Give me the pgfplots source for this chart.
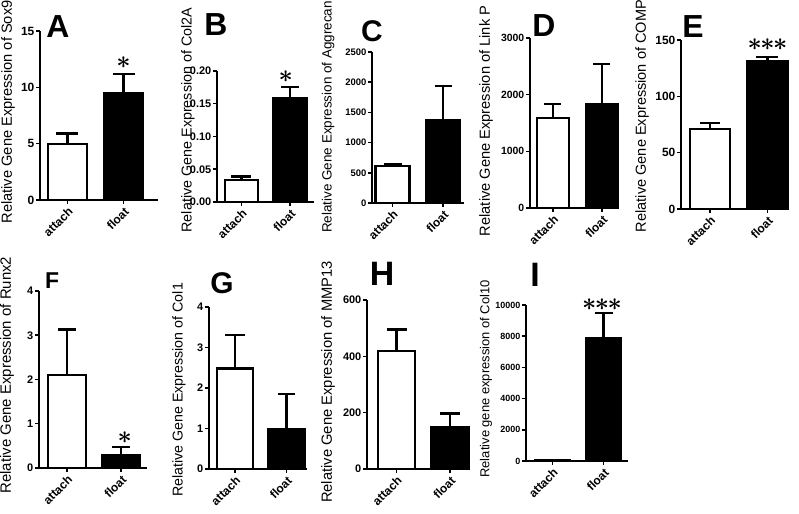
\documentclass[border=0pt]{standalone}
\usepackage{fontspec}
\setmainfont{Liberation Sans}
\usepackage{pgfplots}
\pgfplotsset{compat=1.18}
\newcommand{\tfnine}{\bfseries\fontsize{9}{9}\selectfont}
\newcommand{\tfninehalf}{\bfseries\fontsize{9.5}{9.5}\selectfont}
\newcommand{\tftenhalf}{\bfseries\fontsize{10.5}{10.5}\selectfont}
\newcommand{\tfeleven}{\bfseries\fontsize{11}{11}\selectfont}
\newcommand{\tftwelve}{\bfseries\fontsize{12}{12}\selectfont}
\tikzset{starnode/.style={font=\fontsize{23}{23}\selectfont\boldmath, inner sep=0pt}}
\pgfplotsset{
  panel/.style={
    scale only axis, anchor=south west, clip=false,
    axis x line=bottom, axis y line=left,
    axis line style={-, line width=1.8bp, black},
    every inner x axis line/.append style={-},
    every inner y axis line/.append style={-},
    ymin=0, xtick={0,1}, xticklabels={attach,float},
    tick align=outside, major tick length=4bp,
    tick style={line width=1.5bp, black},
    x tick label style={rotate=45, anchor=north east, font=\tftwelve, inner sep=1.5bp},
    y tick label style={font=\tfeleven, inner sep=1.5bp},
    /pgf/number format/assume math mode=true,
    /pgf/number format/1000 sep={},
    scaled y ticks=false,
    ylabel style={anchor=center, font=\fontsize{14.7}{14.7}\selectfont},
    ybar,
  },
  wbar/.style={fill=white, draw=black, line width=2.2bp, bar shift=0pt,
    error bars/.cd, y dir=plus, y explicit,
    error bar style={line width=2.2bp, black},
    error mark options={line width=2.2bp, black, mark size=#1, rotate=90}},
  bbar/.style={fill=black, draw=black, line width=2.2bp, bar shift=0pt,
    error bars/.cd, y dir=plus, y explicit,
    error bar style={line width=2.2bp, black},
    error mark options={line width=2.2bp, black, mark size=#1, rotate=90}},
}
\newcommand{\panellabel}[3]{\node[font=\bfseries\fontsize{#3}{#3}\selectfont, inner sep=0pt] at #1 {#2};}
\begin{document}
\begin{tikzpicture}[x=1bp,y=1bp]
\path[use as bounding box] (0,0) rectangle (799,514);

% ---------- A: Sox9
\begin{axis}[panel, at={(40bp,314bp)}, width=118bp, height=169bp,
  xmin=-0.491, xmax=1.616, ymax=15, ytick={0,5,10,15}, bar width=39bp,
  y tick label style={font=\tftwelve},
  ylabel={Relative Gene Expression of Sox9},
  ylabel style={at={(axis description cs:-0.271,0.521)}}]
\addplot[wbar=11bp] coordinates {(0,5.0) +- (0,0.9)};
\addplot[bbar=11bp] coordinates {(1,9.5) +- (0,1.7)};
\node[starnode] at (axis cs:1,12.2) {$\ast$};
\end{axis}
\panellabel{(58,487)}{A}{32}

% ---------- B: Col2A
\begin{axis}[panel, at={(217bp,312bp)}, width=97bp, height=131bp,
  xmin=-0.505, xmax=1.495, ymax=0.20, ytick={0,0.05,0.10,0.15,0.20}, bar width=33bp,
  yticklabel style={/pgf/number format/.cd, fixed, fixed zerofill, precision=2},
  ylabel={Relative Gene Expression of Col2A},
  ylabel style={at={(axis description cs:-0.299,0.626)}, font=\fontsize{14.4}{14.4}\selectfont}]
\addplot[wbar=10bp] coordinates {(0,0.034) +- (0,0.005)};
\addplot[bbar=9bp] coordinates {(1,0.158) +- (0,0.018)};
\node[starnode] at (axis cs:0.91,0.192) {$\ast$};
\end{axis}
\panellabel{(216,489)}{B}{32}

% ---------- C: Aggrecan
\begin{axis}[panel, at={(372bp,311bp)}, width=92bp, height=151bp,
  xmin=-0.406, xmax=1.416, ymax=2500, ytick={0,500,1000,1500,2000,2500}, bar width=34bp,
  y tick label style={font=\tfninehalf},
  ylabel={Relative Gene Expression of Aggrecan},
  ylabel style={at={(axis description cs:-0.478,0.570)}, font=\fontsize{13.5}{13.5}\selectfont}]
\addplot[wbar=9bp] coordinates {(0,610) +- (0,40)};
\addplot[bbar=8.5bp] coordinates {(1,1370) +- (0,570)};
\end{axis}
\panellabel{(372,483)}{C}{30}

% ---------- D: Link P
\begin{axis}[panel, at={(530bp,306bp)}, width=88bp, height=170bp,
  xmin=-0.469, xmax=1.327, ymax=3000, ytick={0,1000,2000,3000}, bar width=32bp,
  y tick label style={font=\tftenhalf},
  ylabel={Relative Gene Expression of Link P},
  ylabel style={at={(axis description cs:-0.5,0.512)}}]
\addplot[wbar=8.5bp] coordinates {(0,1590) +- (0,240)};
\addplot[bbar=8.5bp] coordinates {(1,1830) +- (0,710)};
\end{axis}
\panellabel{(544,488)}{D}{32}

% ---------- E: COMP
\begin{axis}[panel, at={(681bp,305bp)}, width=107bp, height=169bp,
  xmin=-0.504, xmax=1.357, ymax=150, ytick={0,50,100,150}, bar width=40bp,
  y tick label style={font=\tftwelve},
  ylabel={Relative Gene Expression of COMP},
  ylabel style={at={(axis description cs:-0.364,0.550)}, font=\fontsize{14.6}{14.6}\selectfont}]
\addplot[wbar=10bp] coordinates {(0,71) +- (0,5)};
\addplot[bbar=11bp] coordinates {(1,131) +- (0,4)};
\node[starnode] at (axis cs:1,145.5) {${\ast}\mkern-1mu{\ast}\mkern-1mu{\ast}$};
\end{axis}
\panellabel{(693,487)}{E}{32}

% ---------- F: Runx2
\begin{axis}[panel, at={(39bp,46bp)}, width=108bp, height=177bp,
  xmin=-0.519, xmax=1.481, ymax=4, ytick={0,1,2,3,4}, bar width=38bp,
  ylabel={Relative Gene Expression of Runx2},
  ylabel style={at={(axis description cs:-0.296,0.525)}, font=\fontsize{15}{15}\selectfont}]
\addplot[wbar=9bp] coordinates {(0,2.1) +- (0,1.03)};
\addplot[bbar=9bp] coordinates {(1,0.3) +- (0,0.17)};
\node[starnode] at (axis cs:1.07,0.68) {$\ast$};
\end{axis}
\panellabel{(52,233)}{F}{23}

% ---------- G: Col1
\begin{axis}[panel, at={(209bp,45bp)}, width=98bp, height=162bp,
  xmin=-0.505, xmax=1.398, ymax=4, ytick={0,1,2,3,4}, bar width=36bp,
  ylabel={Relative Gene Expression of Col1},
  ylabel style={at={(axis description cs:-0.306,0.488)}, font=\fontsize{14.3}{14.3}\selectfont}]
\addplot[wbar=10bp] coordinates {(0,2.48) +- (0,0.82)};
\addplot[bbar=8.5bp] coordinates {(1,0.98) +- (0,0.88)};
\end{axis}
\panellabel{(222,231)}{G}{30}

% ---------- H: MMP13
\begin{axis}[panel, at={(367bp,45bp)}, width=101bp, height=169bp,
  xmin=-0.551, xmax=1.336, ymax=600, ytick={0,200,400,600}, bar width=37bp,
  ylabel={Relative Gene Expression of MMP13},
  ylabel style={at={(axis description cs:-0.386,0.515)}, font=\fontsize{14.8}{14.8}\selectfont}]
\addplot[wbar=10bp] coordinates {(0,420) +- (0,75)};
\addplot[bbar=10bp] coordinates {(1,148) +- (0,49)};
\end{axis}
\panellabel{(382,240)}{H}{34}

% ---------- I: Col10
\begin{axis}[panel, at={(526bp,53bp)}, width=102bp, height=156bp,
  xmin=-0.52, xmax=1.48, ymax=10000, ytick={0,2000,4000,6000,8000,10000}, bar width=35bp,
  y tick label style={font=\tfnine},
  ylabel={Relative gene expression of Col10},
  ylabel style={at={(axis description cs:-0.392,0.526)}, font=\fontsize{13}{13}\selectfont}]
\addplot[wbar=9bp] coordinates {(0,50) +- (0,0)};
\addplot[bbar=9bp] coordinates {(1,7900) +- (0,1600)};
\node[starnode] at (axis cs:0.97,10000) {${\ast}\mkern-1mu{\ast}\mkern-1mu{\ast}$};
\end{axis}
\panellabel{(535,239)}{I}{34}

\end{tikzpicture}
\end{document}
